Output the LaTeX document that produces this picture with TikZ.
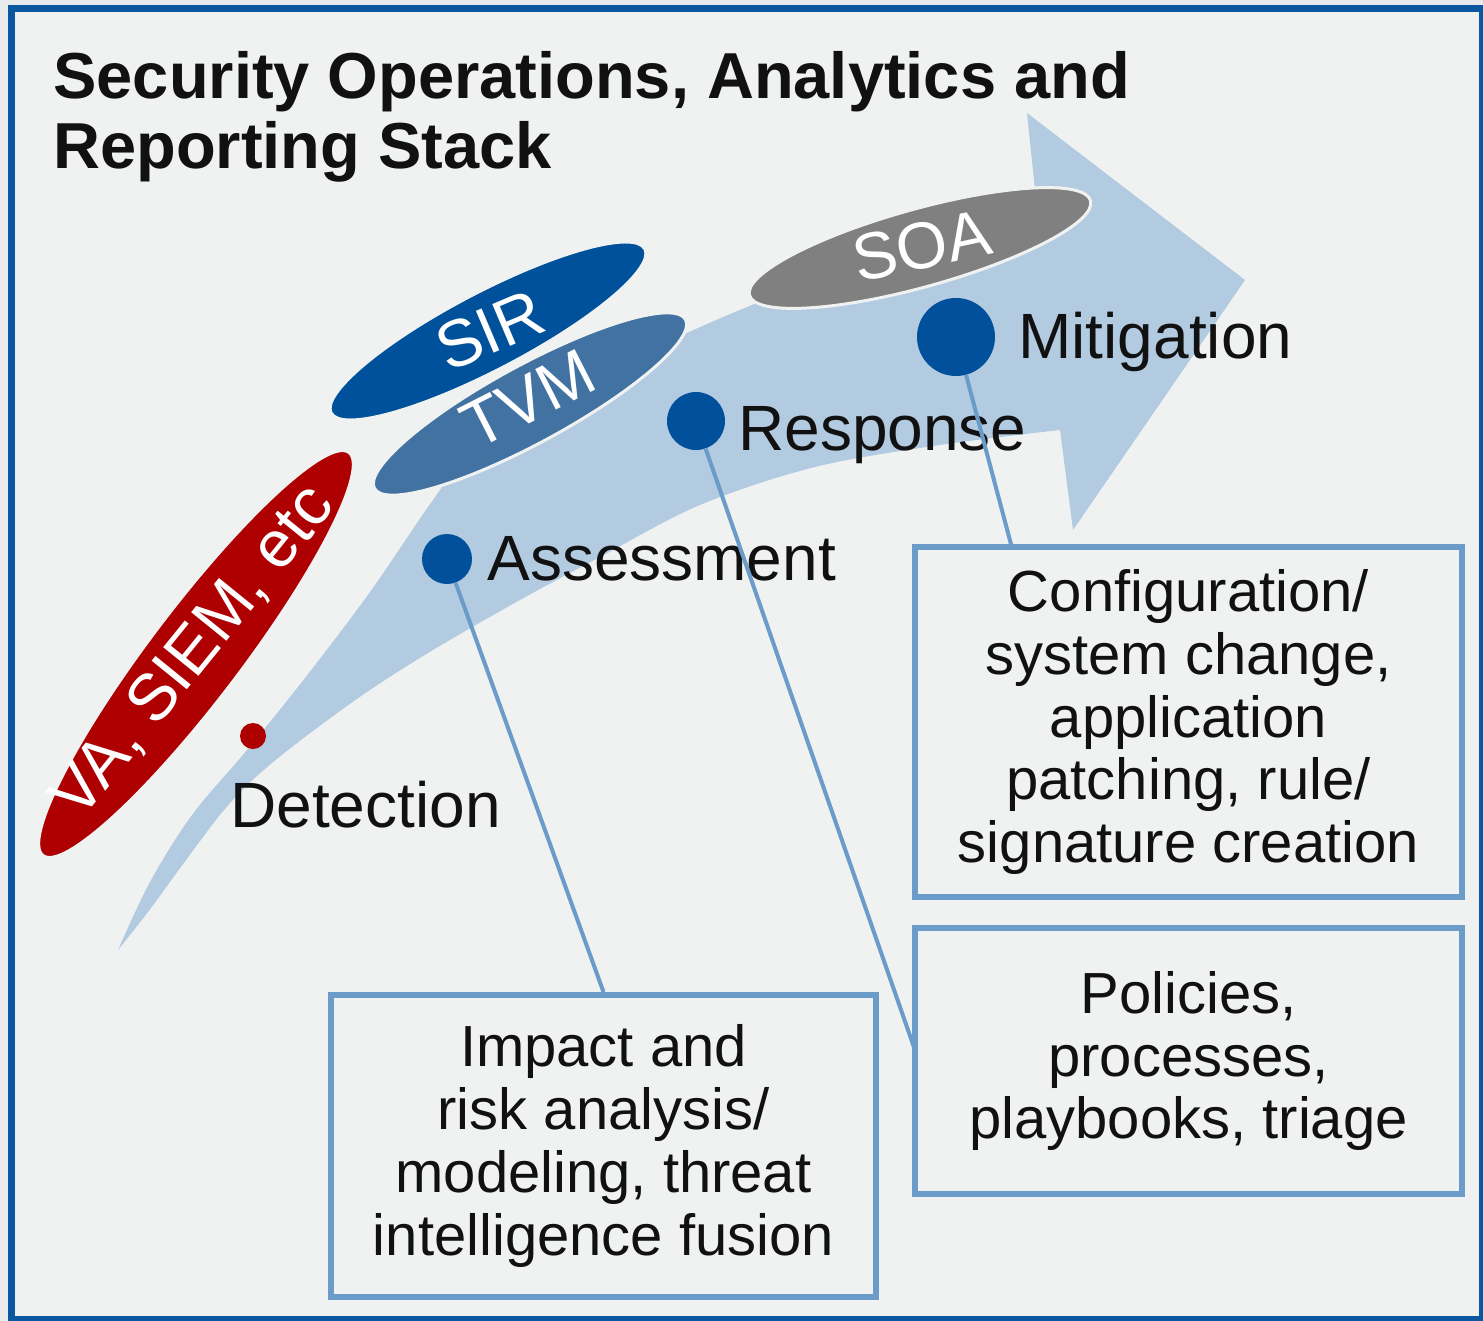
\documentclass[tikz,border=0pt]{standalone}
\usepackage{fontspec}
\setmainfont{Liberation Sans}
\usetikzlibrary{shapes.geometric}
\definecolor{bgc}{HTML}{F0F2F2}
\definecolor{outerc}{HTML}{E8EAEB}
\definecolor{framec}{HTML}{0B57A0}
\definecolor{bandc}{HTML}{B3CBE1}
\definecolor{redc}{HTML}{AE0000}
\definecolor{sirc}{HTML}{00519B}
\definecolor{tvmc}{HTML}{4172A2}
\definecolor{soac}{HTML}{808080}
\definecolor{dotc}{HTML}{00509C}
\definecolor{linec}{HTML}{6A9BC9}
\definecolor{txtc}{HTML}{111111}
\begin{document}
\begin{tikzpicture}[x=0.5pt,y=-0.5pt,
  ell/.style={ellipse, draw=bgc, line width=1.5pt, inner sep=0pt},
  elltxt/.style={text=white, font=\fontsize{33}{36}\selectfont, inner sep=0pt},
  dotn/.style={circle, fill=dotc, inner sep=0pt},
  lbl/.style={anchor=base west, inner sep=0pt, text=txtc, font=\fontsize{32}{36}\selectfont},
  infobox/.style={rectangle, draw=linec, line width=3pt, align=center, text=txtc, inner sep=0pt, font=\fontsize{29}{31.4}\selectfont},
  conn/.style={draw=linec, line width=2pt}]
\useasboundingbox (0,0) rectangle (1483,1321);
\fill[outerc] (0,0) rectangle (1483,1321);
\filldraw[fill=bgc, draw=framec, line width=3.5pt] (11,9) rectangle (1482,1319);

% big curved arrow
\fill[bandc] plot[smooth, tension=0.55] coordinates {(118,950) (150,882) (192,815) (247,750) (305,678) (370,592) (433,500) (470,455) (570,395) (687,333) (850,265) (1035,190)}
  -- (1027,113) -- (1245,280) -- (1073,530)
  -- plot[smooth, tension=0.55] coordinates {(1060,430) (940,445) (815,467) (700,505) (600,557) (520,600) (433,650) (367,692) (305,737) (258,775) (224,810) (186,860) (148,912) (118,950)} -- cycle;

% title
\node[anchor=north west, inner sep=0pt, align=left, font=\bfseries\fontsize{32.5}{35}\selectfont, text=txtc] (title) at (53,51) {Security Operations, Analytics and\\Reporting Stack};

% ellipses
\node[ell, fill=sirc, minimum width=177pt, minimum height=39pt, rotate=27.6] (sir) at (488,331) {};
\node[elltxt, rotate=23] (sirt) at (490,330) {SIR};
\node[ell, fill=tvmc, minimum width=177pt, minimum height=39pt, rotate=28.5] (tvm) at (530,404) {};
\node[elltxt, rotate=27] (tvmt) at (528,399) {TVM};
\node[ell, fill=redc, minimum width=253pt, minimum height=46pt, rotate=52.8] (va) at (196,654) {};
\node[elltxt, rotate=51] (vat) at (194,652) {VA, SIEM, etc};
\node[ell, fill=soac, minimum width=177pt, minimum height=39pt, rotate=15.5] (soa) at (920,248) {};
\node[elltxt, rotate=12] (soat) at (922,246) {SOA};

% dots and labels
\node[dotn, fill=redc, minimum size=13pt] (dDet) at (253,736) {};
\node[lbl] (lDet) at (230,827) {Detection};
\node[dotn, minimum size=25pt] (dAss) at (447,559) {};
\node[lbl] (lAss) at (487,580) {Assessment};
\node[dotn, minimum size=29pt] (dRes) at (696,421) {};
\node[lbl] (lRes) at (738,450) {Response};
\node[dotn, minimum size=39pt] (dMit) at (956,337) {};
\node[lbl] (lMit) at (1018,358) {Mitigation};

% boxes
\node[infobox, minimum width=273.5pt, minimum height=175pt] (config) at (1188.5,722) {Configuration/\\system change,\\application\\patching, rule/\\signature creation};
\node[infobox, minimum width=273.5pt, minimum height=133pt] (policies) at (1188.5,1061) {Policies,\\processes,\\playbooks, triage};
\node[infobox, minimum width=272.5pt, minimum height=151pt] (impact) at (603.5,1146) {Impact and\\risk analysis/\\modeling, threat\\intelligence fusion};

% connectors
\coordinate (cfgin) at (1012,548);
\coordinate (polin) at (916,1053);
\draw[conn] (dAss) -- (impact.north);
\draw[conn] (dRes) -- (polin);
\draw[conn] (dMit) -- (cfgin);
\end{tikzpicture}
\end{document}
